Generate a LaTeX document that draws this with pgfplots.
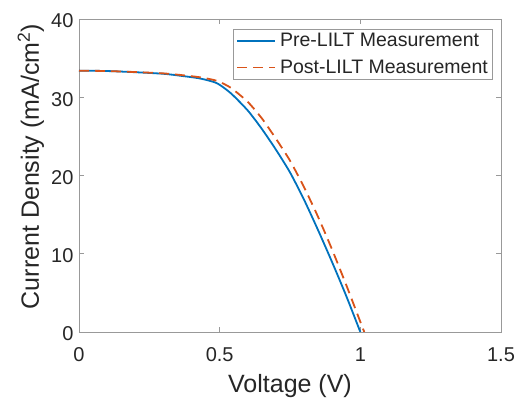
\documentclass[border=0pt]{standalone}
\usepackage{fontspec}
\setmainfont{Liberation Sans}
\usepackage{pgfplots}
\pgfplotsset{compat=1.18}
\definecolor{mblue}{rgb}{0,0.447,0.741}
\definecolor{morange}{rgb}{0.85,0.325,0.098}
\definecolor{axgray}{gray}{0.6}
\begin{document}
\begin{tikzpicture}
\path[use as bounding box] (-79pt,-66pt) rectangle (440pt,332pt);
\begin{axis}[
  at={(0,0)}, anchor=south west,
  scale only axis,
  width=422pt, height=313pt,
  xmin=0, xmax=1.5, ymin=0, ymax=40,
  xtick={0,0.5,1,1.5}, ytick={0,10,20,30,40},
  xticklabels={0,0.5,1,1.5},
  /pgf/number format/assume math mode=true,
  tick align=inside,
  major tick length=5pt,
  axis line style={axgray, line width=0.8pt},
  tick style={axgray, line width=0.8pt},
  ticklabel style={font=\fontsize{20}{24}\selectfont, text=black!85},
  xticklabel style={anchor=base, yshift=-30pt},
  yticklabel style={xshift=-2pt, yshift=-2pt},
  xlabel={Voltage (V)},
  ylabel={Current Density (mA/cm\textsuperscript{2})},
  label style={font=\fontsize{25}{29}\selectfont, text=black!85},
  xlabel style={at={(axis description cs:0.5,0)}, anchor=base, yshift=-60pt},
  ylabel style={at={(axis description cs:0,0.5)}, anchor=base, yshift=40pt, xshift=9pt},
  legend style={at={(1,1)}, xshift=-9pt, yshift=-10pt, anchor=north east, draw=axgray,
    font=\fontsize{19.5}{23}\selectfont, inner sep=2pt, row sep=8pt, text=black!85},
  legend cell align=left,
  legend image code/.code={\draw[#1] (0pt,0pt) -- (38pt,0pt); \path (-1pt,0pt) (40pt,0pt);},
]
\addplot[mblue, line width=1.8pt, smooth, tension=0.4] coordinates {
(0,33.4) (0.1,33.35) (0.2,33.2) (0.3,33.0) (0.36,32.75) (0.43,32.4) (0.49,31.8)
(0.54,30.5) (0.6,28.3) (0.65,25.95) (0.7,23.3) (0.75,20.4) (0.8,16.9)
(0.85,13.0) (0.9,8.9) (0.95,4.6) (1.0,0)
};
\addlegendentry{Pre-LILT Measurement}
\addplot[morange, line width=1.8pt, dash pattern=on 10pt off 6pt, smooth, tension=0.4] coordinates {
(0,33.4) (0.1,33.35) (0.2,33.22) (0.3,33.05) (0.36,32.85) (0.43,32.55) (0.49,32.1)
(0.54,31.2) (0.6,29.4) (0.65,27.3) (0.7,24.7) (0.75,21.9) (0.8,18.5)
(0.85,14.7) (0.9,10.5) (0.95,6.0) (1.0,1.3) (1.014,0)
};
\addlegendentry{Post-LILT Measurement}
\end{axis}
\end{tikzpicture}
\end{document}
